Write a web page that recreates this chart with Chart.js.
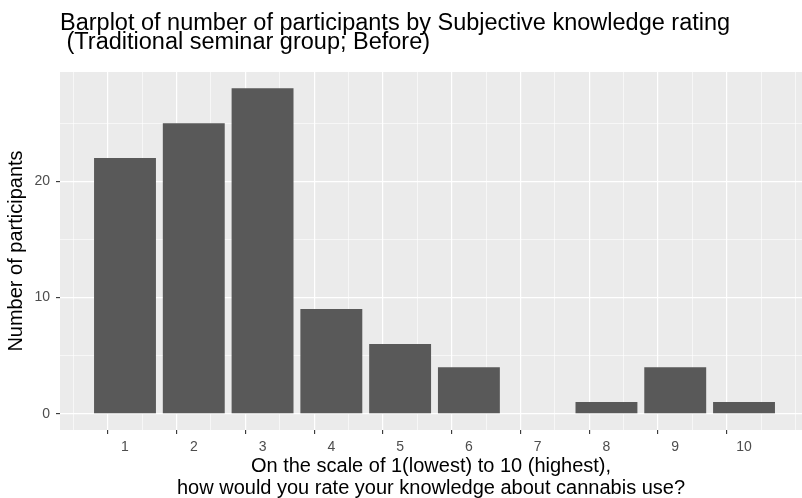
<!DOCTYPE html>
<html lang="en">
<head>
    <meta charset="UTF-8">
    <title>Subjective knowledge rating</title>
    <script src="https://cdn.jsdelivr.net/npm/chart.js"></script>
    <style>
        body {
            margin: 0;
            background-color: #ffffff;
        }
        #wrap {
            width: 802px;
            height: 498px;
        }
    </style>
</head>
<body>
    <div id="wrap"><canvas id="knowledgeChart"></canvas></div>

    <script>
        // data
        const ratings = [1, 2, 3, 4, 5, 6, 7, 8, 9, 10];
        const participants = [22, 25, 28, 9, 6, 4, 0, 1, 4, 1];
        const yTickValues = [0, 5, 10, 15, 20, 25];
        const xTickValues = [0.5, 1, 1.5, 2, 2.5, 3, 3.5, 4, 4.5, 5, 5.5, 6, 6.5, 7, 7.5, 8, 8.5, 9, 9.5, 10, 10.5];

        const fontFamily = "'Liberation Sans', Arial, sans-serif";

        const panelBackground = {
            id: 'panelBackground',
            beforeDraw(chart) {
                const { ctx, chartArea } = chart;
                ctx.save();
                ctx.fillStyle = '#ebebeb';
                ctx.fillRect(chartArea.left, chartArea.top, chartArea.right - chartArea.left, chartArea.bottom - chartArea.top);
                ctx.restore();
            }
        };

        // major = labelled break, minor = halfway line
        const xMajor = c => c.tick && Number.isInteger(c.tick.value);
        const yMajor = c => c.tick && c.tick.value % 10 === 0;

        const ctx = document.getElementById('knowledgeChart').getContext('2d');
        new Chart(ctx, {
            type: 'bar',
            data: {
                datasets: [{
                    label: 'Number of participants',
                    data: ratings.map((r, i) => ({ x: r, y: participants[i] })),
                    backgroundColor: '#595959',
                    borderWidth: 0,
                    // the ruler also sees the half-step grid ticks, so 1.8 of that = 0.9 of a unit
                    barPercentage: 1.8,
                    categoryPercentage: 1.0
                }]
            },
            options: {
                responsive: true,
                maintainAspectRatio: false,
                animation: false,
                layout: { padding: 0 },
                plugins: {
                    legend: { display: false },
                    tooltip: { enabled: false },
                    title: {
                        display: true,
                        text: ['Barplot of number of participants by Subjective knowledge rating', ' (Traditional seminar group; Before)'],
                        align: 'start',
                        fullSize: false,
                        color: '#000000',
                        font: { family: fontFamily, size: 23.5, weight: 'normal', lineHeight: 0.83 },
                        padding: { top: 13.7, bottom: 19.3 }
                    }
                },
                scales: {
                    x: {
                        type: 'linear',
                        min: 0.055,
                        max: 10.843,
                        offset: false,
                        afterBuildTicks: scale => {
                            scale.ticks = xTickValues.map(v => ({ value: v }));
                        },
                        afterFit: scale => {
                            scale.height = 68;
                        },
                        border: { display: false },
                        grid: {
                            color: '#ffffff',
                            lineWidth: c => xMajor(c) ? 1.2 : 0.6,
                            tickColor: c => xMajor(c) ? '#333333' : 'rgba(0,0,0,0)',
                            tickWidth: 1.1,
                            tickLength: 4
                        },
                        ticks: {
                            autoSkip: false,
                            maxRotation: 0,
                            color: '#4d4d4d',
                            padding: 4.3,
                            font: { family: fontFamily, size: 14 },
                            callback: v => Number.isInteger(v) ? String(v) : ''
                        },
                        title: {
                            display: true,
                            text: ['On the scale of 1(lowest) to 10 (highest),', 'how would you rate your knowledge about cannabis use?'],
                            color: '#000000',
                            font: { family: fontFamily, size: 20, lineHeight: 1.1 },
                            padding: { top: 0, bottom: -1 }
                        }
                    },
                    y: {
                        min: -1.4,
                        max: 29.4,
                        afterBuildTicks: scale => {
                            scale.ticks = yTickValues.map(v => ({ value: v }));
                        },
                        afterFit: scale => {
                            scale.width = 60;
                        },
                        border: { display: false },
                        grid: {
                            color: '#ffffff',
                            lineWidth: c => yMajor(c) ? 1.2 : 0.6,
                            tickColor: c => yMajor(c) ? '#333333' : 'rgba(0,0,0,0)',
                            tickWidth: 1.1,
                            tickLength: 4
                        },
                        ticks: {
                            color: '#4d4d4d',
                            padding: 6,
                            font: { family: fontFamily, size: 14 },
                            callback: v => v % 10 === 0 ? String(v) : ''
                        },
                        title: {
                            display: true,
                            text: 'Number of participants',
                            color: '#000000',
                            font: { family: fontFamily, size: 20, lineHeight: 1.2 },
                            padding: { top: 4.5, bottom: 0 }
                        }
                    }
                }
            },
            plugins: [panelBackground]
        });
    </script>
</body>
</html>
